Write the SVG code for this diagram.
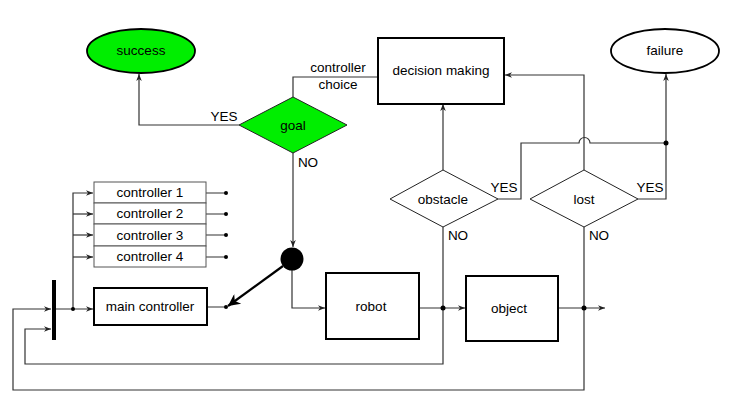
<svg xmlns="http://www.w3.org/2000/svg" width="750" height="400" viewBox="0 0 750 400">
<style>
text{font-family:"Liberation Sans",Arial,sans-serif;font-size:13.5px;fill:#000;text-anchor:middle;dominant-baseline:central}
.lbl{text-anchor:start}
.box{fill:#fff;stroke:#000;stroke-width:2}
.cbox{fill:#fff;stroke:#555;stroke-width:1}
.dia{fill:#fff;stroke:#222;stroke-width:1}
.green{fill:#00ee00}
.ell{stroke:#000;stroke-width:1.8}
.wire{fill:none;stroke:#333;stroke-width:1.2}
.bold{fill:none;stroke:#000;stroke-width:2.2}
.dot{fill:#000}
</style>
<defs>
<marker id="arr" viewBox="0 0 10 10" refX="10" refY="5" markerWidth="9" markerHeight="7" markerUnits="userSpaceOnUse" orient="auto">
<path d="M0,1 L10,5 L0,9 L3,5 z" fill="#222"/>
</marker>
<marker id="arrB" viewBox="0 0 10 10" refX="10" refY="5" markerWidth="14" markerHeight="12" markerUnits="userSpaceOnUse" orient="auto">
<path d="M0,0 L10,5 L0,10 L3,5 z" fill="#000"/>
</marker>
</defs>

<g id="connectors">
<path class="wire" d="M239,125 H139 V74" marker-end="url(#arr)"/>
<path class="wire" d="M293,97 V77 H378"/>
<path class="wire" d="M293,153 V247" marker-end="url(#arr)"/>
<path class="wire" d="M292,270 V308 H325" marker-end="url(#arr)"/>
<path class="bold" d="M283,266 L228,306" marker-end="url(#arrB)"/>
<path class="wire" d="M419,308 H465" marker-end="url(#arr)"/>
<path class="wire" d="M558,308 H605" marker-end="url(#arr)"/>
<path class="wire" d="M443,170 V104" marker-end="url(#arr)"/>
<path class="wire" d="M584,170 V75 H505" marker-end="url(#arr)"/>
<path class="wire" d="M498,199 H521 V143 H579 A5.5,5.5 0 0 1 590,143 H666"/>
<path class="wire" d="M638,199 H666 V74" marker-end="url(#arr)"/>
<path class="wire" d="M443,227 V364 H25 V329 H51" marker-end="url(#arr)"/>
<path class="wire" d="M584,227 V390 H13 V309 H51" marker-end="url(#arr)"/>
<path class="wire" d="M56,309 H93" marker-end="url(#arr)"/>
<path class="wire" d="M73,309 V193 H93" marker-end="url(#arr)"/>
<path class="wire" d="M73,214 H93" marker-end="url(#arr)"/>
<path class="wire" d="M73,235 H93" marker-end="url(#arr)"/>
<path class="wire" d="M73,257 H93" marker-end="url(#arr)"/>
<path class="wire" d="M206,193 H226 M206,214 H226 M206,235 H226 M206,257 H226 M207,307 H226"/>
<circle class="dot" cx="226" cy="193" r="2"/>
<circle class="dot" cx="226" cy="214" r="2"/>
<circle class="dot" cx="226" cy="235" r="2"/>
<circle class="dot" cx="226" cy="257" r="2"/>
<circle class="dot" cx="226" cy="307" r="2"/>
<circle class="dot" cx="73" cy="309" r="2"/>
<circle class="dot" cx="443" cy="308" r="2.5"/>
<circle class="dot" cx="584" cy="308" r="2.5"/>
<circle class="dot" cx="666" cy="143" r="2.5"/>
<text x="224" y="116">YES</text>
<text x="308" y="162">NO</text>
<text x="338" y="67">controller</text>
<text x="338" y="84">choice</text>
<text x="504" y="187">YES</text>
<text x="650" y="187">YES</text>
<text x="458" y="235">NO</text>
<text x="599" y="235">NO</text>
</g>

<g id="success"><ellipse class="green ell" cx="141" cy="51" rx="54" ry="22"/><text x="141" y="50">success</text></g>
<g id="failure"><ellipse class="ell" fill="#fff" cx="665" cy="51" rx="54" ry="22"/><text x="665" y="50">failure</text></g>
<g id="goal"><polygon class="dia green" points="239,125 293,97 347,125 293,153"/><text x="293" y="125">goal</text></g>
<g id="decision"><rect class="box" x="378" y="38" width="126" height="66" stroke-width="2.5"/><text x="441" y="70">decision making</text></g>
<g id="obstacle"><polygon class="dia" points="390,199 443,170 498,199 443,227"/><text x="443" y="199">obstacle</text></g>
<g id="lost"><polygon class="dia" points="530,199 584,170 638,199 584,227"/><text x="584" y="199">lost</text></g>
<g id="junction"><circle class="dot" cx="292" cy="259" r="11.5"/></g>
<g id="robot"><rect class="box" x="326" y="273" width="93" height="66"/><text x="371" y="306">robot</text></g>
<g id="object"><rect class="box" x="466" y="276" width="92" height="65"/><text x="509" y="308">object</text></g>
<g id="bar"><rect x="52" y="280" width="4" height="60" fill="#000"/></g>
<g id="controller1"><rect class="cbox" x="94" y="182" width="112" height="21"/><text x="150" y="192.5">controller 1</text></g>
<g id="controller2"><rect class="cbox" x="94" y="203" width="112" height="21"/><text x="150" y="213.5">controller 2</text></g>
<g id="controller3"><rect class="cbox" x="94" y="224" width="112" height="22"/><text x="150" y="235">controller 3</text></g>
<g id="controller4"><rect class="cbox" x="94" y="246" width="112" height="21"/><text x="150" y="256.5">controller 4</text></g>
<g id="main"><rect class="box" x="94" y="288" width="113" height="37"/><text x="150" y="306">main controller</text></g>
</svg>
